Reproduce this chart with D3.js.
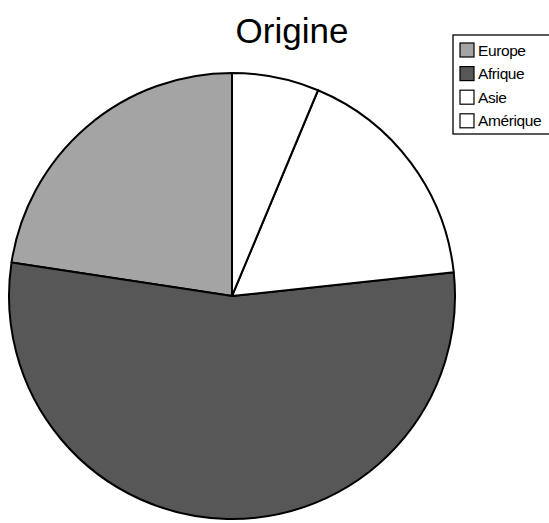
<!DOCTYPE html>
<html>
<head>
<meta charset="utf-8">
<script src="https://cdn.jsdelivr.net/npm/d3@7"></script>
<style>
  html, body { margin: 0; padding: 0; background: #fff; }
  svg { display: block; }
</style>
</head>
<body>
<svg id="chart" width="549" height="523"></svg>
<script>
const title = "Origine";
const categories = ["Europe", "Afrique", "Asie", "Amérique"];
const values = [22.6, 54.1, 17.0, 6.3];
const colors = ["#a4a4a4", "#575757", "#ffffff", "#ffffff"];

const svg = d3.select("#chart");
const cx = 232, cy = 296, r = 223;

const pie = d3.pie().sort(null).value(d => d.v)
  .startAngle(2 * Math.PI).endAngle(0);
const arc = d3.arc().innerRadius(0).outerRadius(r);
const data = categories.map((c, i) => ({ c, v: values[i], col: colors[i] }));

const g = svg.append("g").attr("transform", `translate(${cx},${cy})`);
g.selectAll("path").data(pie(data)).join("path")
  .attr("d", arc)
  .attr("fill", d => d.data.col)
  .attr("stroke", "#000")
  .attr("stroke-width", 2)
  .attr("stroke-linejoin", "round");

svg.append("text")
  .attr("x", 292).attr("y", 43)
  .attr("text-anchor", "middle")
  .attr("font-family", "Liberation Sans, Arial, sans-serif")
  .attr("font-size", 35)
  .attr("fill", "#000")
  .text(title);

// Legend
const lx = 453, ly = 35, rowH = 23.6;
svg.append("rect")
  .attr("x", lx).attr("y", ly)
  .attr("width", 110).attr("height", 99)
  .attr("fill", "#fff").attr("stroke", "#000").attr("stroke-width", 1.3);

const leg = svg.selectAll("g.leg").data(data).join("g")
  .attr("class", "leg")
  .attr("transform", (d, i) => `translate(${lx + 7},${ly + 15 + i * rowH})`);
leg.append("rect")
  .attr("x", 0).attr("y", -7).attr("width", 14).attr("height", 14)
  .attr("fill", d => d.col).attr("stroke", "#000").attr("stroke-width", 1.2);
leg.append("text")
  .attr("x", 18).attr("y", 5.5)
  .attr("font-family", "Liberation Sans, Arial, sans-serif")
  .attr("font-size", 15.5)
  .attr("letter-spacing", -0.4)
  .attr("fill", "#000")
  .text(d => d.c);
</script>
</body>
</html>
